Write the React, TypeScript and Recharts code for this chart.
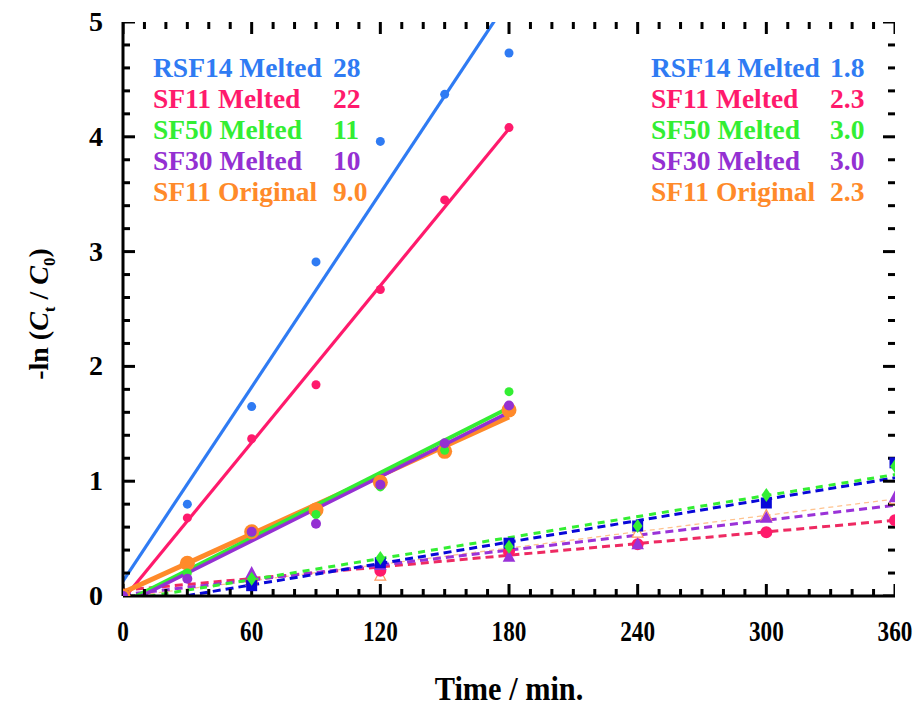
import React from 'react';
import { ComposedChart, XAxis, YAxis, Line, Scatter } from 'recharts';

// ---------- data ----------
const seriesNames = ['RSF14 Melted', 'SF11 Melted', 'SF50 Melted', 'SF30 Melted', 'SF11 Original'];
const fastRateLabels = ['28', '22', '11', '10', '9.0'];
const slowRateLabels = ['1.8', '2.3', '3.0', '3.0', '2.3'];

// first stage (0-180 min), measured points
const fastTimes = [0, 30, 60, 90, 120, 150, 180];
const rsf14Fast = [0, 0.8, 1.65, 2.91, 3.96, 4.37, 4.73];
const sf11Fast = [0, 0.68, 1.37, 1.84, 2.67, 3.45, 4.08];
const sf50Fast = [0, 0.2, 0.55, 0.71, 0.95, 1.27, 1.78];
const sf30Fast = [0, 0.15, 0.56, 0.63, 0.97, 1.33, 1.66];
const sf11OrigFast = [0, 0.285, 0.56, 0.75, 0.99, 1.26, 1.62];

// first stage linear fits (end points read at t = 0 and 180)
const fastFitTimes = [0, 180];
const rsf14FastFit = [0.13, 5.2];
const sf11FastFit = [-0.03, 4.07];
const sf50FastFit = [-0.06, 1.64];
const sf30FastFit = [-0.08, 1.6];
const sf11OrigFastFit = [0.03, 1.56];

// second stage (0-360 min), measured points
const slowTimes = [0, 60, 120, 180, 240, 300, 360];
const slowBlueSquares = [0, 0.09, 0.29, 0.46, 0.61, 0.81, 1.16];
const slowGreenDiamonds = [0, 0.15, 0.33, 0.43, 0.61, 0.88, 1.13];
const slowPurpleTriangles = [0, 0.2, 0.27, 0.34, 0.45, 0.68, 0.86];
const slowPinkCircles = [0, 0.12, 0.22, 0.39, 0.45, 0.555, 0.66];
const slowOrangeTriangles = [0, 0.13, 0.175, 0.41, 0.55, 0.7, 0.84];

// second stage linear fits (end points read at t = 0 and 360)
const slowFitTimes = [0, 360];
const slowBlueFit = [-0.09, 1.03];
const slowGreenFit = [-0.04, 1.058];
const slowPurpleFit = [0.01, 0.79];
const slowPinkFit = [0.05, 0.66];
const slowOrangeFit = [-0.01, 0.845];

// axes
const xDomain = [0, 360];
const yDomain = [0, 5];
const xMajorTicks = [0, 60, 120, 180, 240, 300, 360];
const yMajorTicks = [0, 1, 2, 3, 4, 5];
const xMinorStep = 10;
const yMinorStep = 0.2;

// ---------- layout & styles ----------
const CHART_W = 921;
const CHART_H = 710;
const MARGIN = { top: 22, right: 26, left: 0, bottom: 0 };
const Y_AXIS_W = 123;
const X_AXIS_H = 114;
const legendColors = ['#2F7BF3', '#FF1A6C', '#33EE33', '#9430D2', '#FF8A2A'];
const FONT = '"Liberation Serif", "DejaVu Serif", serif';
const TICK_MAJOR = 12;
const TICK_MINOR = 7;
const LW = 3;

const toRows = (ts: number[], vs: number[]) => ts.map((t, i) => ({ t, v: vs[i] }));
const range = (a: number, b: number, s: number) => {
  const out: number[] = [];
  for (let v = a; v <= b + 1e-9; v += s) out.push(Math.round(v * 1000) / 1000);
  return out;
};
const xAllTicks = range(xDomain[0], xDomain[1], xMinorStep);
const yAllTicks = range(yDomain[0], yDomain[1], yMinorStep);
const isMajorX = (v: number) => xMajorTicks.some((m) => Math.abs(m - v) < 1e-6);
const isMajorY = (v: number) => yMajorTicks.some((m) => Math.abs(m - v) < 1e-6);

// tick-mark anchor rows on the four sides of the frame
const bottomTickRows = xAllTicks.map((t) => ({ t, v: yDomain[0] }));
const topTickRows = xAllTicks.map((t) => ({ t, v: yDomain[1] }));
const leftTickRows = yAllTicks.map((v) => ({ t: xDomain[0], v }));
const rightTickRows = yAllTicks.map((v) => ({ t: xDomain[1], v }));

const BottomTick = (p: any) => {
  const { x, y, payload } = p;
  return (
    <text
      transform={`translate(${x},${y + 45}) scale(0.8,1)`}
      textAnchor="middle"
      fontFamily={FONT}
      fontWeight="bold"
      fontSize={29}
      fill="#000"
      stroke="none"
    >
      {payload.value}
    </text>
  );
};
const LeftTick = (p: any) => {
  const { x, y, payload } = p;
  return (
    <text x={x - 20} y={y + 9} textAnchor="end" fontFamily={FONT} fontWeight="bold" fontSize={28} fill="#000" stroke="none">
      {payload.value}
    </text>
  );
};

// inward tick marks drawn as polygons (same primitive as the data markers)
const vTick = (dir: 1 | -1) => (p: any) => {
  if (p.cx == null) return <g />;
  const len = isMajorX(p.payload.t) ? TICK_MAJOR : TICK_MINOR;
  const x0 = p.cx - LW / 2;
  const x1 = p.cx + LW / 2;
  const y0 = p.cy;
  const y1 = p.cy + dir * len;
  return <polygon points={`${x0},${y0} ${x1},${y0} ${x1},${y1} ${x0},${y1}`} fill="#000" />;
};
const hTick = (dir: 1 | -1) => (p: any) => {
  if (p.cx == null) return <g />;
  const len = isMajorY(p.payload.v) ? TICK_MAJOR : TICK_MINOR;
  const y0 = p.cy - LW / 2;
  const y1 = p.cy + LW / 2;
  const x0 = p.cx;
  const x1 = p.cx + dir * len;
  return <polygon points={`${x0},${y0} ${x1},${y0} ${x1},${y1} ${x0},${y1}`} fill="#000" />;
};

const dot = (color: string, r: number) => (p: any) =>
  p.cx == null ? <g /> : <circle cx={p.cx} cy={p.cy} r={r} fill={color} />;
const square = (color: string, s: number) => (p: any) =>
  p.cx == null ? <g /> : <rect x={p.cx - s / 2} y={p.cy - s / 2} width={s} height={s} fill={color} />;
const diamond = (color: string, s: number) => (p: any) =>
  p.cx == null ? (
    <g />
  ) : (
    <polygon
      points={`${p.cx},${p.cy - s} ${p.cx + s * 0.7},${p.cy} ${p.cx},${p.cy + s} ${p.cx - s * 0.7},${p.cy}`}
      fill={color}
    />
  );
const triangle = (color: string, s: number, open = false) => (p: any) =>
  p.cx == null ? (
    <g />
  ) : (
    <polygon
      points={`${p.cx},${p.cy - s} ${p.cx + s * 0.9},${p.cy + s * 0.7} ${p.cx - s * 0.9},${p.cy + s * 0.7}`}
      fill={open ? '#fff' : color}
      stroke={color}
      strokeWidth={open ? 1.2 : 0}
    />
  );

export default function App() {
  const axisLine = { stroke: '#000', strokeWidth: LW };
  const fitLine = (ts: number[], vs: number[], color: string, w: number, dash?: string) => (
    <Line
      data={toRows(ts, vs)}
      dataKey="v"
      stroke={color}
      strokeWidth={w}
      strokeDasharray={dash}
      dot={false}
      activeDot={false}
      isAnimationActive={false}
      legendType="none"
    />
  );
  const pts = (rows: any[], shape: any) => (
    <Scatter data={rows} dataKey="v" shape={shape} isAnimationActive={false} legendType="none" />
  );

  const legendRowsY = [77, 108, 139, 170, 201];

  return (
    <div style={{ position: 'absolute', left: 0, top: 0, width: CHART_W, height: CHART_H, background: '#fff' }}>
      <ComposedChart width={CHART_W} height={CHART_H} margin={MARGIN}>
        <XAxis
          dataKey="t"
          type="number"
          domain={xDomain}
          ticks={xMajorTicks}
          interval={0}
          height={X_AXIS_H}
          tickSize={0}
          tickMargin={0}
          tickLine={false}
          axisLine={axisLine}
          tick={<BottomTick />}
          allowDataOverflow
        />
        <XAxis
          xAxisId="top"
          orientation="top"
          dataKey="t"
          type="number"
          domain={xDomain}
          height={0}
          tick={false}
          tickLine={false}
          axisLine={axisLine}
          allowDataOverflow
        />
        <YAxis
          dataKey="v"
          type="number"
          domain={yDomain}
          ticks={yMajorTicks}
          interval={0}
          width={Y_AXIS_W}
          tickSize={0}
          tickMargin={0}
          tickLine={false}
          axisLine={axisLine}
          tick={<LeftTick />}
          allowDataOverflow
        />
        <YAxis
          yAxisId="right"
          orientation="right"
          dataKey="v"
          type="number"
          domain={yDomain}
          width={0}
          tick={false}
          tickLine={false}
          axisLine={axisLine}
          allowDataOverflow
        />

        {/* tick marks: four Scatter series bound to the frame */}
        {pts(bottomTickRows, vTick(-1))}
        {pts(topTickRows, vTick(1))}
        {pts(leftTickRows, hTick(1))}
        {pts(rightTickRows, hTick(-1))}
        <Scatter
          xAxisId="top"
          yAxisId="right"
          data={bottomTickRows}
          dataKey="v"
          shape={() => <g />}
          isAnimationActive={false}
          legendType="none"
        />

        {/* second stage */}
        {fitLine(slowFitTimes, slowOrangeFit, '#FFC38F', 1.3, '5 4')}
        {fitLine(slowFitTimes, slowPinkFit, '#EE2A62', 3, '8 5')}
        {fitLine(slowFitTimes, slowPurpleFit, '#9A32D8', 3, '8 5')}
        {fitLine(slowFitTimes, slowBlueFit, '#0808D8', 3, '8 5')}
        {fitLine(slowFitTimes, slowGreenFit, '#33EE33', 3, '7 6')}
        {pts(toRows(slowTimes, slowOrangeTriangles), triangle('#FF9A60', 6, true))}
        {pts(toRows(slowTimes, slowPinkCircles), dot('#FF1A6C', 6))}
        {pts(toRows(slowTimes, slowPurpleTriangles), triangle('#9A32D8', 7))}
        {pts(toRows(slowTimes, slowBlueSquares), square('#0808D8', 11))}
        {pts(toRows(slowTimes, slowGreenDiamonds), diamond('#33EE33', 7))}

        {/* first stage */}
        {fitLine(fastFitTimes, rsf14FastFit, '#2F7BF3', 3.2)}
        {fitLine(fastFitTimes, sf11FastFit, '#FF1A6C', 3.2)}
        {fitLine(fastFitTimes, sf11OrigFastFit, '#FF8A2A', 5)}
        {fitLine(fastFitTimes, sf50FastFit, '#33EE33', 4)}
        {fitLine(fastFitTimes, sf30FastFit, '#9430D2', 3.5)}
        {pts(toRows(fastTimes, sf11OrigFast), dot('#FF8A2A', 7.5))}
        {pts(toRows(fastTimes, rsf14Fast), dot('#2F7BF3', 4.5))}
        {pts(toRows(fastTimes, sf11Fast), dot('#FF1A6C', 4.5))}
        {pts(toRows(fastTimes, sf50Fast), dot('#33EE33', 4.5))}
        {pts(toRows(fastTimes, sf30Fast), dot('#9430D2', 5))}
      </ComposedChart>

      <svg width={CHART_W} height={CHART_H} style={{ position: 'absolute', left: 0, top: 0, pointerEvents: 'none' }}>
        <g fontFamily={FONT} fontWeight="bold" fontSize={27.5}>
          {seriesNames.map((n, i) => (
            <g key={n} fill={legendColors[i]}>
              <text x={153} y={legendRowsY[i]}>{n}</text>
              <text x={333} y={legendRowsY[i]}>{fastRateLabels[i]}</text>
              <text x={651} y={legendRowsY[i]}>{n}</text>
              <text x={830} y={legendRowsY[i]}>{slowRateLabels[i]}</text>
            </g>
          ))}
        </g>
        <text
          transform="translate(509,700) scale(0.92,1)"
          textAnchor="middle"
          fontFamily={FONT}
          fontWeight="bold"
          fontSize={33}
          fill="#000"
        >
          Time / min.
        </text>
        <text
          transform="translate(48,314) rotate(-90)"
          textAnchor="middle"
          fontFamily={FONT}
          fontWeight="bold"
          fontSize={28}
          fill="#000"
        >
          -ln (<tspan fontStyle="italic">C</tspan>
          <tspan fontSize={17} dy={7}>t</tspan>
          <tspan dy={-7}> / </tspan>
          <tspan fontStyle="italic">C</tspan>
          <tspan fontSize={17} dy={7}>0</tspan>
          <tspan dy={-7}>)</tspan>
        </text>
      </svg>
    </div>
  );
}
